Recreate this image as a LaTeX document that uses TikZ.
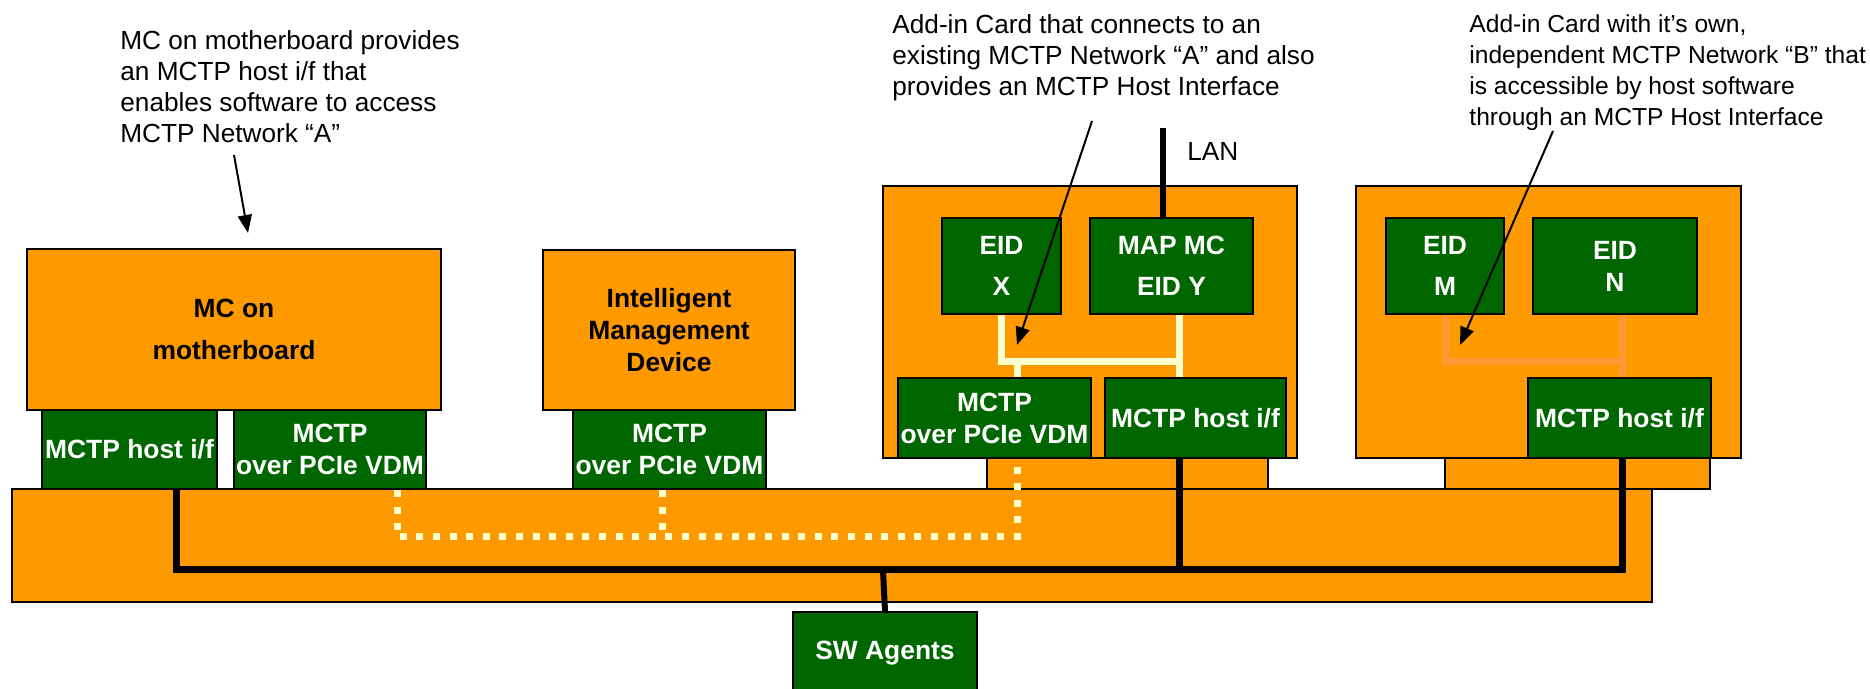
\documentclass[tikz,border=0pt]{standalone}
\usepackage{fontspec}
\setmainfont{Liberation Sans}
\usetikzlibrary{arrows.meta}

\definecolor{mcorange}{HTML}{FF9900}
\definecolor{mcgreen}{HTML}{006600}
\definecolor{cream}{HTML}{FFFFCC}
\definecolor{lightorange}{HTML}{FF9933}

\newcommand{\lblfont}{\fontsize{13.2}{16}\selectfont\bfseries}
\newcommand{\notefont}{\fontsize{13.1}{15.5}\selectfont}

\begin{document}
\begin{tikzpicture}
 [
  x=0.5pt, y=-0.5pt,
  >={Triangle[length=9pt,width=7pt]},
  wh/.style 2 args = {minimum width=#1*0.5pt, minimum height=#2*0.5pt},
  board/.style   = {draw, line width=1pt, fill=mcorange, inner sep=0pt, align=center, font=\lblfont},
  chip/.style    = {draw, line width=1pt, fill=mcgreen, text=white, inner sep=0pt, align=center, font=\lblfont},
  note/.style    = {anchor=north west, inner sep=0pt, align=left, font=\notefont},
  bus/.style     = {line width=3.5pt},
  pcie/.style    = {line width=3.5pt, cream, dash pattern=on 3.5pt off 4.8pt},
  link/.style    = {line width=3.5pt, #1},
  pointer/.style = {->, line width=1pt},
 ]
 \useasboundingbox (0,0) rectangle (1870,689);

 % bus area and card edge connectors
 \node[board, wh={1640}{113}] (bar) at (832,545.5) {};
 \node[board, wh={281}{31}] (tabA) at (1127.5,473.5) {};
 \node[board, wh={265}{31}] (tabB) at (1577.5,473.5) {};

 % devices on the motherboard
 \node[board, wh={414}{161}] (mc) at (234,329.5) {MC on\\[5pt]motherboard};
 \node[chip, wh={175}{79}] (mchost) at (129.5,449.5) {MCTP host i/f};
 \node[chip, wh={192}{79}] (mcvdm) at (330,449.5) {MCTP\\over PCIe VDM};
 \node[board, wh={252}{160}] (imd) at (669,330) {Intelligent\\Management\\Device};
 \node[chip, wh={193}{79}] (imdvdm) at (669.5,449.5) {MCTP\\over PCIe VDM};

 % add-in card on network A
 \node[board, wh={414}{272}] (cardA) at (1090,322) {};
 \node[chip, wh={119}{96}] (eidX) at (1001.5,266) {EID\\[4.5pt]X};
 \node[chip, wh={163}{96}] (eidY) at (1171.5,266) {MAP MC\\[4.5pt]EID Y};
 \node[chip, wh={193}{80}] (vdmA) at (994.5,418) {MCTP\\over PCIe VDM};
 \node[chip, wh={181}{80}] (hostA) at (1195.5,418) {MCTP host i/f};

 % add-in card with network B
 \node[board, wh={385}{272}] (cardB) at (1548.5,322) {};
 \node[chip, wh={118}{96}] (eidM) at (1445,266) {EID\\[4.5pt]M};
 \node[chip, wh={164}{96}] (eidN) at (1615,266) {EID\\N};
 \node[chip, wh={183}{80}] (hostB) at (1619.5,418) {MCTP host i/f};

 \node[chip, wh={184}{82}] (sw) at (885,653) {SW Agents};

 \coordinate (tapA) at (1179,362);
 \coordinate (jA) at (1017,362);
 \coordinate (tapB) at (1622,362);
 \coordinate (busL) at (176,570);
 \coordinate (busR) at (1622,570);
 \coordinate (swtap) at (883,570);
 \coordinate (pcL) at (397,537);
 \coordinate (pcM) at (662,537);
 \coordinate (pcR) at (1017,537);
 \coordinate (lanend) at (1163,128);

 % links inside the cards
 \draw[link=cream] (eidX.south) |- (tapA);
 \draw[link=cream] (tapA |- eidY.south) -- (tapA |- hostA.north);
 \draw[link=cream] (jA) -- (jA |- vdmA.north);
 \draw[link=lightorange] (eidM.south) |- (tapB);
 \draw[link=lightorange] (tapB |- eidN.south) -- (tapB |- hostB.north);

 % PCIe VDM path
 \draw[pcie] (pcL |- mcvdm.south) -- (pcL) -- (pcR) -- (pcR |- vdmA.south);
 \draw[pcie] (pcM |- imdvdm.south) -- (pcM);

 % host bus
 \draw[bus] (busL |- mchost.south) -- (busL) -- (busR) -- (busR |- hostB.south);
 \draw[bus] (tapA |- hostA.south) -- (tapA |- busL);
 \draw[line width=3pt] (swtap) -- (sw.north);

 \draw[line width=3pt] (lanend) -- (lanend |- eidY.north);
 \node[note, anchor=west] (lan) at (1187,151) {LAN};

 % notes
 \node[note] (noteL) at (120,30) {MC on motherboard provides\\an MCTP host i/f that\\enables software to access\\MCTP Network “A”};
 \node[note] (noteA) at (892,14) {Add-in Card that connects to an\\existing MCTP Network “A” and also\\provides an MCTP Host Interface};
 \node[note, font=\fontsize{12.3}{15.5}\selectfont] (noteB) at (1469,14) {Add-in Card with it’s own,\\independent MCTP Network “B” that\\is accessible by host software\\through an MCTP Host Interface};

 \coordinate (fromL) at (234,155);
 \coordinate (tipL) at (248,233);
 \coordinate (fromA) at (1092,121);
 \coordinate (tipA) at (1017,345);
 \coordinate (fromB) at (1553,131);
 \coordinate (tipB) at (1460,345);
 \draw[pointer] (fromL) -- (tipL);
 \draw[pointer] (fromA) -- (tipA);
 \draw[pointer] (fromB) -- (tipB);
\end{tikzpicture}
\end{document}
